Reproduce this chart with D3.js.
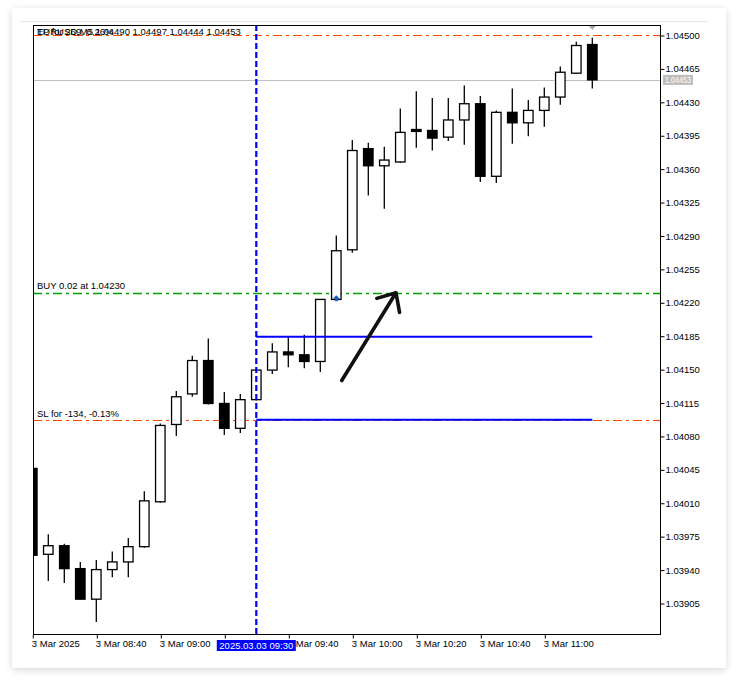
<!DOCTYPE html>
<html>
<head>
<meta charset="utf-8">
<script src="https://cdn.jsdelivr.net/npm/d3@7"></script>
<style>
body { margin: 0; background: #fff; }
#card { position: absolute; left: 12px; top: 8px; width: 714px; height: 660px; background: #fff; box-shadow: 0 2px 7px rgba(0,0,0,0.16); }
svg { position: absolute; left: 0; top: 0; }
text { font-family: "Liberation Sans", Arial, sans-serif; font-size: 9.5px; }
</style>
</head>
<body>
<div id="card"></div>
<svg id="chart" width="737" height="684"></svg>
<script>
// EURUSD M5, 3 Mar 2025
const times = ['08:20','08:25','08:30','08:35','08:40','08:45','08:50','08:55',
	'09:00','09:05','09:10','09:15','09:20','09:25','09:30','09:35','09:40','09:45','09:50','09:55',
	'10:00','10:05','10:10','10:15','10:20','10:25','10:30','10:35','10:40','10:45','10:50','10:55',
	'11:00','11:05','11:10','11:15'];

const open  = [1.04046,1.03956,1.03965,1.03941,1.03909,1.03940,1.03948,1.03964,
	1.04011,1.04092,1.04124,1.04159,1.04114,1.04088,1.04118,1.04149,1.04168,1.04165,1.04158,1.04223,
	1.04275,1.04381,1.04363,1.04367,1.04401,1.04400,1.04393,1.04411,1.04428,1.04352,1.04419,1.04408,
	1.04421,1.04435,1.04460,1.04490];
const high  = [1.04050,1.03977,1.03967,1.03948,1.03950,1.03959,1.03973,1.04022,
	1.04093,1.04127,1.04164,1.04182,1.04126,1.04124,1.04150,1.04177,1.04183,1.04186,1.04223,1.04290,
	1.04390,1.04387,1.04383,1.04423,1.04441,1.04434,1.04434,1.04447,1.04436,1.04421,1.04444,1.04432,
	1.04445,1.04467,1.04493,1.04497];
const low   = [1.03950,1.03928,1.03926,1.03909,1.03885,1.03932,1.03932,1.03963,
	1.04010,1.04080,1.04121,1.04113,1.04081,1.04083,1.04117,1.04145,1.04152,1.04151,1.04147,1.04222,
	1.04272,1.04332,1.04318,1.04366,1.04382,1.04379,1.04389,1.04385,1.04346,1.04345,1.04386,1.04394,
	1.04404,1.04427,1.04460,1.04444];
const close = [1.03955,1.03965,1.03941,1.03909,1.03940,1.03948,1.03964,1.04012,
	1.04091,1.04121,1.04159,1.04114,1.04088,1.04118,1.04149,1.04168,1.04165,1.04158,1.04223,1.04274,
	1.04379,1.04363,1.04369,1.04398,1.04399,1.04392,1.04411,1.04428,1.04352,1.04419,1.04408,1.04421,
	1.04435,1.04461,1.04489,1.04453];

const priceTicks = [1.04500,1.04465,1.04430,1.04395,1.04360,1.04325,1.04290,1.04255,1.04220,
	1.04185,1.04150,1.04115,1.04080,1.04045,1.04010,1.03975,1.03940,1.03905];
const timeTickIdx = [0, 4, 8, 12, 16, 20, 24, 28, 32];
// the 09:20 label sits under the vertical line's time box
const timeTickLabels = ['3 Mar 2025','3 Mar 08:40','3 Mar 09:00','','3 Mar 09:40',
	'3 Mar 10:00','3 Mar 10:20','3 Mar 10:40','3 Mar 11:00'];

// trade levels
const tpPrice = 1.04500, buyPrice = 1.04230, slPrice = 1.04097, bidPrice = 1.04453;
const tpText = 'TP for 269, 0.26%';
const buyText = 'BUY 0.02 at 1.04230';
const slText = 'SL for -134, -0.13%';
const headerText = 'EURUSD,M5 1.04490 1.04497 1.04444 1.04453';
const buyBar = 19;
const vlineBar = 14, vlineText = '2025.03.03 09:30';
// two blue trend lines from bar 14 to bar 35
const trendLines = [{from: 14, to: 35, price: 1.04184}, {from: 14, to: 35, price: 1.04097}];
// hand drawn arrow (bar index, price)
const arrowTail = {i: 19.34, p: 1.04138}, arrowTip = {i: 22.73, p: 1.04230};

const candles = times.map((t, i) => ({i: i, t: t, o: open[i], h: high[i], l: low[i], c: close[i]}));

// dimensions
const plot = {left: 33, top: 25, right: 661, bottom: 635};
const svg = d3.select('#chart');

const x = d3.scaleLinear().domain([0, 35]).range([32.3, 592.3]);
const y = d3.scaleLinear().domain([1.0387147, 1.0451048]).range([plot.bottom, plot.top]);

// thin separator on top of chart window
svg.append('line').attr('x1', 20).attr('x2', 708).attr('y1', 21.5).attr('y2', 21.5)
	.attr('stroke', '#e6e6e6');

svg.append('clipPath').attr('id', 'clip').append('rect')
	.attr('x', plot.left).attr('y', plot.top)
	.attr('width', plot.right - plot.left).attr('height', plot.bottom - plot.top);

const g = svg.append('g').attr('clip-path', 'url(#clip)');

function hline(price, color, dash, w) {
	g.append('line')
		.attr('x1', plot.left).attr('x2', plot.right)
		.attr('y1', Math.round(y(price)) + 0.5).attr('y2', Math.round(y(price)) + 0.5)
		.attr('stroke', color).attr('stroke-width', w || 1)
		.attr('stroke-dasharray', dash);
}
hline(bidPrice, '#c0c0c0', null);
hline(tpPrice, '#ff4500', '9,4,3,4', 1.2);
hline(buyPrice, '#00a000', '9,4,3,4', 1.4);
hline(slPrice, '#ff4500', '9,4,3,4', 1.2);

// candles
const bw = 9.5;
const cg = g.selectAll('.candle').data(candles).enter().append('g').attr('class', 'candle');
cg.append('line')
	.attr('x1', d => x(d.i)).attr('x2', d => x(d.i))
	.attr('y1', d => y(d.h)).attr('y2', d => y(d.l))
	.attr('stroke', '#000').attr('stroke-width', 1.3);
cg.append('rect')
	.attr('x', d => x(d.i) - bw / 2)
	.attr('y', d => y(Math.max(d.o, d.c)))
	.attr('width', bw)
	.attr('height', d => Math.max(1.5, Math.abs(y(d.o) - y(d.c))))
	.attr('fill', d => d.c >= d.o ? '#fff' : '#000')
	.attr('stroke', '#000').attr('stroke-width', 1.3);

// buy marker
const bx = x(buyBar), by = y(buyPrice) + 2.5;
g.append('path')
	.attr('d', `M${bx},${by} l3.5,3.5 h-2 v2.5 h-3 v-2.5 h-2 z`)
	.attr('fill', '#1a5fc4');

// blue trend lines
g.selectAll('.trend').data(trendLines).enter().append('line')
	.attr('x1', d => x(d.from)).attr('x2', d => x(d.to))
	.attr('y1', d => y(d.price)).attr('y2', d => y(d.price))
	.attr('stroke', '#0000ff').attr('stroke-width', 2);

// vertical line
g.append('line')
	.attr('x1', x(vlineBar)).attr('x2', x(vlineBar))
	.attr('y1', plot.top).attr('y2', plot.bottom)
	.attr('stroke', '#0000ff').attr('stroke-width', 2.2)
	.attr('stroke-dasharray', '6,3');

// arrow
const ax0 = x(arrowTail.i), ay0 = y(arrowTail.p), ax1 = x(arrowTip.i), ay1 = y(arrowTip.p);
const ang = Math.atan2(ay0 - ay1, ax0 - ax1);
const head = 20, spread = 42 * Math.PI / 180;
g.append('path')
	.attr('d', `M${ax0},${ay0} L${ax1},${ay1} ` +
		`M${ax1 + head * Math.cos(ang + spread)},${ay1 + head * Math.sin(ang + spread)} L${ax1},${ay1} ` +
		`L${ax1 + head * Math.cos(ang - spread)},${ay1 + head * Math.sin(ang - spread)}`)
	.attr('fill', 'none').attr('stroke', '#111').attr('stroke-width', 3.6)
	.attr('stroke-linecap', 'round').attr('stroke-linejoin', 'round');

// texts on lines
g.append('text').attr('x', 37).attr('y', y(buyPrice) - 3.5).text(buyText);
g.append('text').attr('x', 37).attr('y', y(slPrice) - 3).text(slText);
// the TP label and the chart header share the same spot, as in the terminal
g.append('text').attr('x', 37).attr('y', 34.5).text(tpText);
g.append('text').attr('x', 37).attr('y', 34.5).text(headerText);

// line markers at the right edge
[[tpPrice, '#ff4500'], [buyPrice, '#00a000'], [slPrice, '#ff4500']].forEach(m => {
	svg.append('line').attr('x1', plot.right - 4).attr('x2', plot.right)
		.attr('y1', Math.round(y(m[0])) + 0.5).attr('y2', Math.round(y(m[0])) + 0.5)
		.attr('stroke', m[1]).attr('stroke-width', 1.2);
});

// gray triangle above last bar
const lx = x(candles.length - 1);
svg.append('path').attr('d', `M${lx - 4},${plot.top + 0.5} h8 l-4,4.5 z`).attr('fill', '#a8a8a8');

// frame
svg.append('rect')
	.attr('x', plot.left + 0.5).attr('y', plot.top + 0.5)
	.attr('width', plot.right - plot.left - 1).attr('height', plot.bottom - plot.top - 1)
	.attr('fill', 'none').attr('stroke', '#000');

// price axis
const yAxis = svg.append('g')
	.attr('transform', 'translate(' + (plot.right - 0.5) + ',0.5)')
	.call(d3.axisRight(y).tickValues(priceTicks).tickSize(4).tickPadding(1).tickFormat(d3.format('.5f')));
yAxis.select('.domain').remove();
yAxis.selectAll('text').attr('fill', '#000').style('font-size', '9.5px').style('font-family', '"Liberation Sans", Arial, sans-serif');

// time axis
const xAxis = svg.append('g')
	.attr('transform', 'translate(0.5,' + (plot.bottom - 0.5) + ')')
	.call(d3.axisBottom(x).tickValues(timeTickIdx).tickSize(4).tickPadding(2).tickFormat((d, i) => timeTickLabels[i]));
xAxis.select('.domain').remove();
xAxis.selectAll('text').attr('text-anchor', 'start').attr('dx', -1.5).attr('fill', '#000')
	.style('font-size', '9.5px').style('font-family', '"Liberation Sans", Arial, sans-serif');

// bid price label
const bidY = y(bidPrice);
svg.append('rect').attr('x', 663).attr('y', bidY - 5).attr('width', 30).attr('height', 10).attr('fill', '#bdbdbd');
svg.append('text').attr('x', 665).attr('y', bidY + 3.3).attr('fill', '#fff')
	.attr('textLength', 26).attr('lengthAdjust', 'spacingAndGlyphs')
	.text(d3.format('.5f')(bidPrice));

// vertical line time label
const vx = x(vlineBar);
svg.append('rect').attr('x', vx - 39.5).attr('y', plot.bottom + 5).attr('width', 79).attr('height', 11).attr('fill', '#0000ff');
svg.append('text').attr('x', vx).attr('y', plot.bottom + 13.5).attr('text-anchor', 'middle')
	.attr('fill', '#fff').text(vlineText);
</script>
</body>
</html>
